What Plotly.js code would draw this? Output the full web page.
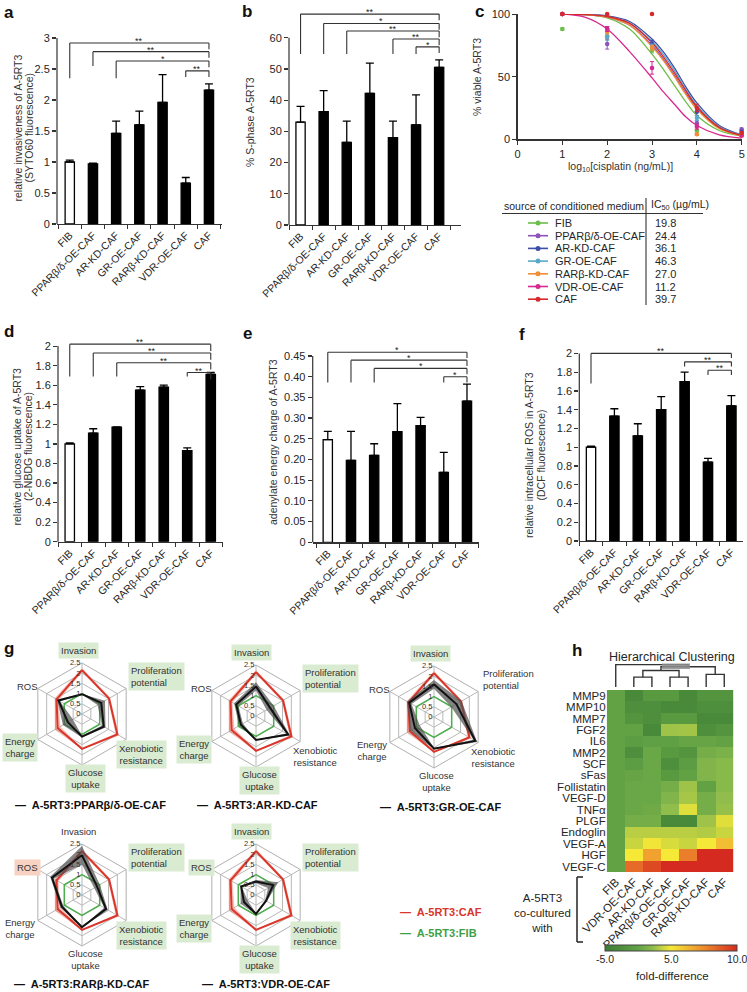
<!DOCTYPE html>
<html>
<head>
<meta charset="utf-8">
<script src="https://cdn.plot.ly/plotly-3.0.1.min.js"></script>
<style>html,body{margin:0;padding:0;background:#fff;}#chart{width:747px;height:992px;}</style>
</head>
<body>
<div id="chart"></div>
<script>
// ================= DATA =================
const groups = ['FIB','PPARβ/δ-OE-CAF','AR-KD-CAF','GR-OE-CAF','RARβ-KD-CAF','VDR-OE-CAF','CAF'];

// a: relative invasiveness
const invasion    = [1.00, 0.97, 1.46, 1.60, 1.96, 0.66, 2.16];
const invasionErr = [0.03, 0.01, 0.20, 0.22, 0.45, 0.09, 0.10];
// b: % S-phase
const sphase      = [33.0, 36.3, 26.5, 42.2, 28.0, 32.1, 50.5];
const sphaseErr   = [5.0, 6.8, 6.8, 9.7, 5.3, 9.6, 2.4];
// d: glucose uptake
const glucose     = [1.00, 1.11, 1.17, 1.55, 1.58, 0.93, 1.71];
const glucoseErr  = [0.01, 0.045, 0.005, 0.035, 0.02, 0.03, 0.02];
// e: adenylate energy charge
const energy      = [0.248, 0.198, 0.210, 0.267, 0.282, 0.169, 0.341];
const energyErr   = [0.020, 0.070, 0.028, 0.068, 0.020, 0.048, 0.041];
// f: intracellular ROS
const rosVals     = [1.00, 1.33, 1.12, 1.40, 1.70, 0.84, 1.44];
const rosErr      = [0.01, 0.08, 0.13, 0.14, 0.10, 0.04, 0.11];

// significance brackets (group compared with CAF, label)
const sigA = [['FIB','**'],['PPARβ/δ-OE-CAF','**'],['AR-KD-CAF','*'],['VDR-OE-CAF','**']];
const sigB = [['FIB','**'],['PPARβ/δ-OE-CAF','*'],['AR-KD-CAF','**'],['RARβ-KD-CAF','**'],['VDR-OE-CAF','*']];
const sigD = [['FIB','**'],['PPARβ/δ-OE-CAF','**'],['AR-KD-CAF','**'],['VDR-OE-CAF','**']];
const sigE = [['FIB','*'],['PPARβ/δ-OE-CAF','*'],['AR-KD-CAF','*'],['VDR-OE-CAF','*']];
const sigF = [['FIB','**'],['RARβ-KD-CAF','**'],['VDR-OE-CAF','**']];

// tick labels
const ticksA = [0,0.5,1,1.5,2,2.5,3];
const ticksB = [0,10,20,30,40,50,60];
const ticksD = [0,0.2,0.4,0.6,0.8,1,1.2,1.4,1.6,1.8,2];
const ticksE = [0,0.05,0.10,0.15,0.20,0.25,0.30,0.35,0.40,0.45];
const ticksEText = ['0','0.05','0.10','0.15','0.20','0.25','0.30','0.35','0.40','0.45'];

// c: cisplatin viability
const doseX = [1,2,3,4,5];
const fitX  = [1,1.5,2,2.5,3,3.25,3.5,3.75,4,4.5,5];
const viabFIB  = [88,82,71,7,3];    const errFIB  = [1,2,2,1,1];
const viabPPAR = [100,76,77,13,8];  const errPPAR = [0.5,4,2,2,1];
const viabAR   = [100,88,76,22,6];  const errAR   = [0.5,2,3,3,1];
const viabGR   = [100,82,74,17,4];  const errGR   = [0.5,3,2,2,1];
const viabRAR  = [100,86,73,4,3];   const errRAR  = [0.5,2,2,1,1];
const viabVDR  = [100,88,57,10,3];  const errVDR  = [0.5,2,5,2,1];
const viabCAF  = [100,100,100,25,5];const errCAF  = [0.5,0.5,0.5,3,1];
const fitFIB  = [100,99.5,97,88,68,56,43,30,19,7,2.5];
const fitPPAR = [100,99.6,97.5,91,75,64,51,37,25,9,3];
const fitAR   = [100,99.7,98.5,94,80,70,57,42,29,11,3.5];
const fitGR   = [100,99.6,98,93,78,68,55,40,27,10,3.3];
const fitRAR  = [100,99.5,97.5,91,74,63,50,36,24,8.5,2.8];
const fitVDR  = [100,97.5,88,70,49,38,28,18,11,3.5,1];
const fitCAF  = [100,99.6,98,92.5,77,66,53,39,26,9.5,3];
const ic50 = ['19.8','24.4','36.1','46.3','27.0','11.2','39.7'];
const mediaColors = ['#6cbd4a','#8d52bd','#3d4ea8','#58a9cb','#f08d35','#d6288f','#d7292c'];

// g: radar (Invasion, Proliferation, Xenobiotic, Glucose, Energy, ROS) relative to FIB
const radarAxes = ['Invasion','Proliferation potential','Xenobiotic resistance','Glucose uptake','Energy charge','ROS'];
const radarLabels = ['Invasion','Proliferation<br>potential','Xenobiotic<br>resistance','Glucose<br>uptake','Energy<br>charge','ROS'];
const radarFIB     = [1,1,1,1,1,1];
const radarCAF     = [2.15,1.53,2.00,1.71,1.38,1.44];
const radarCAFErr  = [0.10,0.07,0.10,0.02,0.16,0.11];
const radarPPAR    = [0.97,1.09,1.23,1.11,0.80,1.33];
const radarPPARErr = [0.01,0.21,0.10,0.04,0.28,0.08];
const radarAR      = [1.45,0.80,1.82,1.17,0.85,1.12];
const radarARErr   = [0.20,0.20,0.10,0.01,0.11,0.12];
const radarGR      = [1.60,1.27,2.34,1.55,1.08,1.40];
const radarGRErr   = [0.21,0.29,0.10,0.03,0.27,0.13];
const radarRAR     = [1.95,0.85,1.36,1.58,1.14,1.70];
const radarRARErr  = [0.45,0.16,0.10,0.02,0.08,0.10];
const radarVDR     = [0.66,0.97,0.57,0.93,0.68,0.84];
const radarVDRErr  = [0.08,0.29,0.05,0.03,0.19,0.04];
// highlighted labels: 0 none, 1 green (significant), 2 salmon
const hlPPAR = [1,1,1,1,1,0];
const hlAR   = [1,1,0,1,1,0];
const hlGR   = [1,0,0,0,0,0];
const hlRAR  = [0,1,1,0,0,2];
const hlVDR  = [1,1,1,1,1,1];
const radarNames = ['A-5RT3:PPARβ/δ-OE-CAF','A-5RT3:AR-KD-CAF','A-5RT3:GR-OE-CAF','A-5RT3:RARβ-KD-CAF','A-5RT3:VDR-OE-CAF'];

// h: heatmap fold-difference
const cocultures = ['FIB','VDR-OE-CAF','AR-KD-CAF','PPARβ/δ-OE-CAF','GR-OE-CAF','RARβ-KD-CAF','CAF'];
const cytokines = ['MMP9','MMP10','MMP7','FGF2','IL6','MMP2','SCF','sFas','Follistatin','VEGF-D','TNFα','PLGF','Endoglin','VEGF-A','HGF','VEGF-C'];
const foldDiff = [
  [0,-3.2,-1.1,-1.1,-3.2,-1.8,-1.8],
  [0,-2.5,-2.5,-3.2,-3.2,-2.5,-2.5],
  [0,-1.8,-2.5,-1.1,-1.1,-3.2,-3.2],
  [0, 0.0,-3.2, 2.7, 2.8,-2.5,-1.8],
  [0,-0.8,-0.3,-0.3, 0.2, 0.2, 0.0],
  [0,-2.5, 0.4,-1.1,-1.8, 1.0, 1.3],
  [0,-0.8, 0.4,-2.5,-0.8, 1.6, 2.0],
  [0, 0.2, 0.4,-1.1, 0.0, 1.6, 2.0],
  [0, 0.4, 0.4, 1.0, 2.7, 0.0, 2.0],
  [0, 0.4, 0.4, 1.6, 2.9, 1.0, 2.3],
  [0, 0.4, 0.7, 2.3, 4.4, 1.0, 2.5],
  [0, 1.0, 1.0,-3.2,-3.2, 2.7, 4.4],
  [0, 3.4, 3.4, 3.4, 3.4, 3.2, 3.8],
  [0, 3.8, 4.9, 4.2, 3.8, 5.0, 6.1],
  [0, 5.0, 6.9, 5.0, 7.8,10.0,10.0],
  [0, 8.3, 9.2,10.0,10.0,10.0,10.0]
];
const foldTicks = [-5, 5, 10];
const foldTickText = ['-5.0','5.0','10.0'];
// dendrogram merges: [nodeA, nodeB, height]; leaves 0..6 are columns, new nodes numbered from 7
const dendroMerges = [[1,2,9],[3,4,9],[5,6,11.5],[7,8,15],[10,9,18.5],[0,11,20.5]];

// ================= LAYOUT HELPERS =================
const W = 747, H = 992;
const X = p => p / W;
const Y = p => 1 - p / H;
const FONT = '"Liberation Sans", Arial, Helvetica, sans-serif';
const INK = '#262626';
const traces = [], shapes = [], annotations = [];
const layout = {width:W, height:H, margin:{l:0,r:0,t:0,b:0,pad:0}, paper_bgcolor:'#fff', plot_bgcolor:'#fff',
  showlegend:false, font:{family:FONT, size:11, color:INK}, shapes, annotations};
function note(o){ annotations.push(Object.assign({showarrow:false, xref:'paper', yref:'paper', xanchor:'center', yanchor:'middle'}, o)); }
function pline(x0,y0,x1,y1,color,w){ shapes.push({type:'line', xref:'paper', yref:'paper', x0:X(x0), y0:Y(y0), x1:X(x1), y1:Y(y1), line:{color:color, width:w}}); }

// panel letters
[['a',9,13],['b',247,11],['c',479,11],['d',9,331],['e',247,333],['f',522,334],['g',9,648],['h',577,650]]
  .forEach(([t,x,y]) => note({text:'<b>'+t+'</b>', x:X(x), y:Y(y), font:{size:17, color:'#111'}}));

// ================= BAR PANELS =================
const barPanels = [
  {id:'',  vals:invasion, err:invasionErr, sig:sigA, ticks:ticksA, tt:ticksA.map(String), axisTop:3, top:3.0,
   x0:57, unit:23.2, xr:[-0.55,6.55], base:224, upu:62, levels:[2.92,2.78,2.63,2.47], legs:[2.35,2.55,2.35,2.37], drop:0.1,
   title:['relative invasiveness of A-5RT3','(SYTO60 fluorescence)'], tx:[17.5,28.5], ty:128},
  {id:'2', vals:sphase, err:sphaseErr, sig:sigB, ticks:ticksB, tt:ticksB.map(String), axisTop:60, top:69,
   x0:289, unit:23.1, xr:[-0.5,6.95], base:225, upu:3.12, levels:[67.6,64.6,62.2,59.6,57.1], legs:[54.8,54.8,54.8,54.8,54.8], drop:2.0,
   title:['% S-phase A-5RT3'], tx:[250], ty:122},
  {id:'4', vals:glucose, err:glucoseErr, sig:sigD, ticks:ticksD, tt:ticksD.map(String), axisTop:2, top:2.06,
   x0:58, unit:23.5, xr:[-0.5,6.5], base:541.7, upu:97.8, levels:[2.02,1.93,1.83,1.73], legs:[1.69,1.69,1.69,1.69], drop:0.07,
   title:['relative glucose uptake of A-5RT3','(2-NBDG fluorescence)'], tx:[16.5,28], ty:447},
  {id:'5', vals:energy, err:energyErr, sig:sigE, ticks:ticksE, tt:ticksEText, axisTop:0.45, top:0.466,
   x0:312.7, unit:23.2, xr:[-0.65,6.5], base:542.3, upu:414, levels:[0.459,0.44,0.42,0.40], legs:[0.386,0.386,0.386,0.386], drop:0.014,
   title:['adenylate energy charge of A-5RT3'], tx:[273], ty:442},
  {id:'6', vals:rosVals, err:rosErr, sig:sigF, ticks:ticksD, tt:ticksD.map(String), axisTop:2, top:2.03,
   x0:579.3, unit:23.4, xr:[-0.5,6.5], base:541, upu:93.8, levels:[2.0,1.91,1.82], legs:[1.68,1.86,1.77], drop:0.05,
   title:['relative intracellular ROS in A-5RT3','(DCF fluorescence)'], tx:[529,540.5], ty:455}
];
barPanels.forEach(p => {
  const xr = 'x'+p.id, yr = 'y'+p.id;
  const x1 = p.x0 + (p.xr[1]-p.xr[0])*p.unit;
  layout['xaxis'+p.id] = {domain:[X(p.x0), X(x1)], anchor:yr, type:'category', categoryorder:'array', categoryarray:groups,
    range:p.xr, showline:true, linecolor:'#333', linewidth:1.2, ticks:'outside', tickson:'boundaries', ticklen:4, tickcolor:'#333',
    tickangle:-45, tickfont:{size:10.5, color:INK}, showgrid:false, zeroline:false, fixedrange:true};
  layout['yaxis'+p.id] = {domain:[Y(p.base), Y(p.base - p.top*p.upu)], anchor:xr, range:[0,p.top], showline:false,
    ticks:'outside', ticklen:4, tickcolor:'#333', tickwidth:1.2, tickvals:p.ticks, ticktext:p.tt, showgrid:false, zeroline:false,
    tickfont:{size:11, color:INK}, fixedrange:true};
  traces.push({type:'bar', x:groups, y:p.vals, xaxis:xr, yaxis:yr, width:0.4, hoverinfo:'skip',
    marker:{color:groups.map(g => g==='FIB' ? '#ffffff' : '#000000'), line:{color:'#000', width:1.3}},
    error_y:{type:'data', symmetric:false, array:p.err, arrayminus:p.err.map(() => 0), color:'#000', thickness:1.3, width:4}});
  // y axis line up to last tick
  pline(p.x0, p.base, p.x0, p.base - p.axisTop*p.upu, '#333', 1.2);
  const caf = groups.indexOf('CAF');
  p.sig.forEach((s,i) => {
    const xi = groups.indexOf(s[0]), lv = p.levels[i];
    const ln = (a,b,c,d) => shapes.push({type:'line', xref:xr, yref:yr, x0:a, y0:b, x1:c, y1:d, line:{color:'#333', width:1.1}});
    ln(xi, p.legs[i], xi, lv); ln(xi, lv, caf, lv); ln(caf, lv, caf, lv - p.drop);
    annotations.push({showarrow:false, xref:xr, yref:yr, x:(xi+caf)/2, y:lv, xanchor:'center', yanchor:'middle', yshift:2, text:s[1], font:{size:9, color:'#222'}});
  });
  p.title.forEach((t,k) => note({text:t, x:X(p.tx[k]), y:Y(p.ty), textangle:-90, font:{size:10.5, color:'#333'}}));
});

// ================= PANEL C =================
layout.xaxis3 = {domain:[X(517.5), X(741.7)], anchor:'y3', range:[0,5], tickvals:[0,1,2,3,4,5], ticks:'outside', ticklen:4,
  tickcolor:'#333', showline:true, linecolor:'#333', linewidth:1.2, showgrid:false, zeroline:false, tickfont:{size:11, color:INK}, fixedrange:true};
layout.yaxis3 = {domain:[Y(139.3), Y(14)], anchor:'x3', range:[0,100], tickvals:[0,50,100], ticks:'outside', ticklen:4,
  tickcolor:'#333', showline:true, linecolor:'#333', linewidth:1.2, showgrid:false, zeroline:false, tickfont:{size:11, color:INK}, fixedrange:true};
const viabSeries = [
  [viabFIB, errFIB, fitFIB], [viabPPAR, errPPAR, fitPPAR], [viabAR, errAR, fitAR], [viabGR, errGR, fitGR],
  [viabRAR, errRAR, fitRAR], [viabVDR, errVDR, fitVDR], [viabCAF, errCAF, fitCAF]
];
viabSeries.forEach((s,i) => {
  traces.push({type:'scatter', mode:'lines', x:fitX, y:s[2], xaxis:'x3', yaxis:'y3', hoverinfo:'skip',
    line:{color:mediaColors[i], width:1.3, shape:'spline', smoothing:0.9}});
});
viabSeries.forEach((s,i) => {
  traces.push({type:'scatter', mode:'markers', x:doseX, y:s[0], xaxis:'x3', yaxis:'y3', hoverinfo:'skip', cliponaxis:false,
    marker:{color:mediaColors[i], size:4.5}, error_y:{type:'data', array:s[1], color:mediaColors[i], thickness:1, width:2}});
});
note({text:'% viable A-5RT3', x:X(477), y:Y(77), textangle:-90, font:{size:10.5, color:'#333'}});
note({text:'log<sub>10</sub>[cisplatin (ng/mL)]', x:X(620), y:Y(166.5), font:{size:10.5, color:'#333'}});
// legend table
note({text:'source of conditioned medium', x:X(502), y:Y(206), xanchor:'left', font:{size:10.5, color:INK}});
note({text:'IC<sub>50</sub> (µg/mL)', x:X(649), y:Y(205), xanchor:'left', font:{size:10.5, color:INK}});
pline(502, 213.5, 703, 213.5, '#333', 1.1);
pline(646, 198, 646, 305, '#333', 1.1);
const rowY = [223, 235.7, 248.4, 261.1, 273.8, 286.5, 299.2];
groups.forEach((g,i) => {
  pline(528, rowY[i], 548, rowY[i], mediaColors[i], 1.6);
  shapes.push({type:'circle', xref:'paper', yref:'paper', x0:X(535.5), x1:X(540.5), y0:Y(rowY[i]+2.5), y1:Y(rowY[i]-2.5),
    fillcolor:mediaColors[i], line:{width:0}});
  note({text:g, x:X(553), y:Y(rowY[i]), xanchor:'left', font:{size:11, color:INK}});
  note({text:ic50[i], x:X(653), y:Y(rowY[i]), xanchor:'left', font:{size:11, color:INK}});
});

// ================= PANEL G (radars) =================
const radarSets = [[radarPPAR, radarPPARErr, hlPPAR],[radarAR, radarARErr, hlAR],[radarGR, radarGRErr, hlGR],
                   [radarRAR, radarRARErr, hlRAR],[radarVDR, radarVDRErr, hlVDR]];
const radarCenters = [[82,714],[256,716],[434,717],[82,895],[256,895]];
const legendPos = [[13,805],[195,805],[378,807],[12,984],[200,984]];
const R = 51;
const labelOff = [[-4,-64,'center'],[46,-38,'left'],[59,40,'center'],[3,64,'center'],[-62,33,'center'],[-55,-28,'center']];
const closeTheta = radarAxes.concat([radarAxes[0]]);
const bandTheta = closeTheta.concat([radarAxes[0]], radarAxes.slice(1).reverse(), [radarAxes[0]]);
function bandR(v, e){
  const outer = v.map((a,j) => a + e[j]);
  const inner = v.map((a,j) => Math.max(0, a - e[j]));
  return outer.concat([outer[0], inner[0]], inner.slice(1).reverse(), [inner[0]]);
}
const close = v => v.concat([v[0]]);
radarSets.forEach((set, i) => {
  const key = 'polar' + (i ? i+1 : '');
  const [cx, cy] = radarCenters[i];
  layout[key] = {domain:{x:[X(cx-R), X(cx+R)], y:[Y(cy+R), Y(cy-R)]}, gridshape:'linear', bgcolor:'#fff',
    angularaxis:{type:'category', categoryorder:'array', categoryarray:radarAxes, direction:'clockwise', rotation:90,
      showticklabels:false, ticks:'', showline:true, linecolor:'#b0b0b0', linewidth:1, gridcolor:'#b8b8b8', gridwidth:1},
    radialaxis:{range:[0,2.5], tickvals:[0,0.5,1,1.5,2,2.5], ticktext:['0','0.5','1','1.5','2','2.5'], angle:90, tickangle:90,
      side:'counterclockwise', showline:false, ticks:'', gridcolor:'#b8b8b8', gridwidth:1, tickfont:{size:7.5, color:'#333'}}};
  traces.push({type:'scatterpolar', subplot:key, mode:'lines', theta:bandTheta, r:bandR(radarCAF, radarCAFErr), fill:'toself',
    fillcolor:'rgba(236,120,100,0.45)', line:{width:0}, hoverinfo:'skip'});
  traces.push({type:'scatterpolar', subplot:key, mode:'lines', theta:closeTheta, r:close(radarCAF), line:{color:'#d9352b', width:2}, hoverinfo:'skip'});
  traces.push({type:'scatterpolar', subplot:key, mode:'lines', theta:closeTheta, r:close(radarFIB), line:{color:'#4fae4f', width:1.5}, hoverinfo:'skip'});
  traces.push({type:'scatterpolar', subplot:key, mode:'lines', theta:bandTheta, r:bandR(set[0], set[1]), fill:'toself',
    fillcolor:'rgba(80,80,80,0.7)', line:{width:0}, hoverinfo:'skip'});
  traces.push({type:'scatterpolar', subplot:key, mode:'lines', theta:closeTheta, r:close(set[0]), line:{color:'#111', width:2}, hoverinfo:'skip'});
  radarLabels.forEach((lab, j) => {
    const o = labelOff[j], hl = set[2][j];
    note({text:lab, x:X(cx+o[0]), y:Y(cy+o[1]), xanchor:o[2]==='left'?'left':'center', align:o[2], borderpad:2,
      bgcolor: hl===1 ? '#d9ebd1' : (hl===2 ? '#f7d2c2' : 'rgba(0,0,0,0)'), font:{size:9.5, color:'#333'}});
  });
  note({text:'<b>—  '+radarNames[i]+'</b>', x:X(legendPos[i][0]), y:Y(legendPos[i][1]), xanchor:'left', font:{size:11, color:'#111'}});
});
note({text:'<b>—  A-5RT3:CAF</b>', x:X(398), y:Y(912), xanchor:'left', font:{size:11, color:'#d9352b'}});
note({text:'<b>—  A-5RT3:FIB</b>', x:X(398), y:Y(933), xanchor:'left', font:{size:11, color:'#3f9f45'}});

// ================= PANEL H (heatmap) =================
// colour bar of the original is piecewise: -5..5 on first half, 5..10 on second half
const toBar = z => z <= 5 ? (z + 5) / 20 : 0.5 + (z - 5) / 10;
layout.xaxis7 = {domain:[X(606.7), X(733.3)], anchor:'y7', type:'category', tickmode:'array', tickvals:cocultures, ticktext:cocultures,
  tickangle:-45, ticks:'', showline:false, showgrid:false, zeroline:false, tickfont:{size:11.5, color:INK}, fixedrange:true};
layout.yaxis7 = {domain:[Y(872.3), Y(690)], anchor:'x7', type:'category', autorange:'reversed', tickmode:'array', tickvals:cytokines,
  ticktext:cytokines, ticks:'', showline:false, showgrid:false, zeroline:false, tickfont:{size:11.5, color:INK}, fixedrange:true};
const cbX0 = 605, cbLen = 132;
traces.push({type:'heatmap', x:cocultures, y:cytokines, z:foldDiff.map(r => r.map(toBar)), xaxis:'x7', yaxis:'y7', zmin:0, zmax:1,
  hoverinfo:'skip', xgap:0, ygap:0,
  colorscale:[[0,'#3a7c34'],[0.25,'#62a245'],[0.36,'#8cbb4c'],[0.5,'#f5e836'],[0.75,'#ee8a2c'],[1,'#d42a1f']],
  colorbar:{orientation:'h', x:X(cbX0 + cbLen/2), xanchor:'center', y:Y(945), yanchor:'top', len:cbLen, lenmode:'pixels', thickness:6,
    thicknessmode:'pixels', outlinewidth:1, outlinecolor:'#444', showticklabels:false, ticks:'', xpad:0, ypad:0}});
foldTicks.forEach((v,i) => note({text:foldTickText[i], x:X(cbX0 + toBar(v)*cbLen), y:Y(959), font:{size:10.5, color:INK}}));
// dendrogram
layout.xaxis8 = {domain:[X(606.7), X(733.3)], anchor:'y8', range:[-0.5,6.5], visible:false, fixedrange:true};
layout.yaxis8 = {domain:[Y(687), Y(664)], anchor:'x8', range:[0,21], visible:false, fixedrange:true};
const nodeX = [0,1,2,3,4,5,6], nodeH = [0,0,0,0,0,0,0];
const dx = [], dy = [];
dendroMerges.forEach(m => {
  const [a,b,h] = m;
  dx.push(nodeX[a], nodeX[a], nodeX[b], nodeX[b], null);
  dy.push(nodeH[a], h, h, nodeH[b], null);
  nodeX.push((nodeX[a]+nodeX[b])/2); nodeH.push(h);
});
traces.push({type:'scatter', mode:'lines', x:dx, y:dy, xaxis:'x8', yaxis:'y8', line:{color:'#333', width:1.4}, hoverinfo:'skip', cliponaxis:false});
shapes.push({type:'rect', xref:'paper', yref:'paper', x0:X(662), x1:X(690), y0:Y(669), y1:Y(663.5), fillcolor:'#8f8f8f', line:{width:0}, opacity:0.85});
note({text:'Hierarchical Clustering', x:X(672), y:Y(657), font:{size:12.5, color:INK}});
note({text:'A-5RT3<br>co-cultured<br>with', x:X(542), y:Y(913), align:'center', font:{size:11.5, color:INK}});
pline(577, 877, 577, 942, '#222', 1.5);
pline(577, 877, 583, 877, '#222', 1.5);
pline(577, 942, 583, 942, '#222', 1.5);
note({text:'fold-difference', x:X(672), y:Y(976), font:{size:11.5, color:INK}});

Plotly.newPlot('chart', traces, layout, {staticPlot:true, displayModeBar:false});
</script>
</body>
</html>
